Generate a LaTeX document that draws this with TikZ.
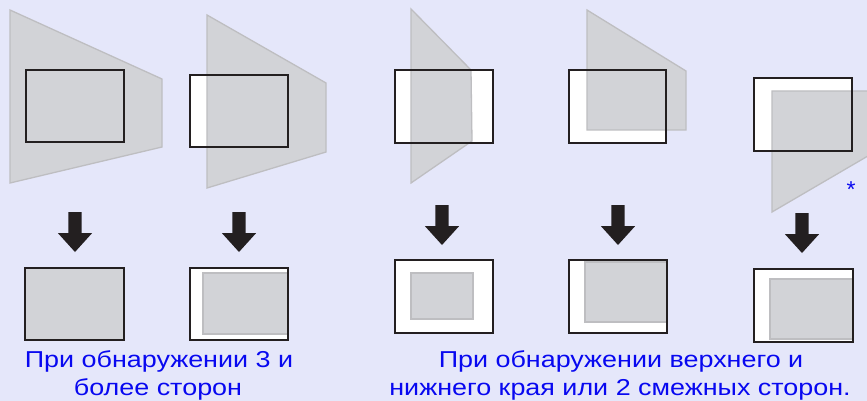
\documentclass[tikz,border=0pt]{standalone}
\usepackage{fontspec}
\setmainfont{Liberation Sans}
\newfontfamily\capfont[FakeStretch=1.17]{Liberation Sans}
\definecolor{bgc}{RGB}{229,231,250}
\definecolor{shadefill}{RGB}{210,211,215}
\definecolor{shadeedge}{RGB}{190,190,193}
\definecolor{frameblk}{RGB}{35,31,32}
\definecolor{captionblue}{RGB}{8,8,240}
\begin{document}
\begin{tikzpicture}[x=1pt,y=-1pt,
  shadeshape/.style={fill=shadefill,draw=shadeedge,line width=1.3pt,line join=miter},
  screenframe/.style={draw=frameblk,line width=2pt},
  screenwhite/.style={fill=white},
  innerimg/.style={fill=shadefill,draw=shadeedge,line width=1.3pt},
  caption/.style={text=captionblue,font=\capfont\fontsize{23}{28}\selectfont,anchor=base,inner sep=0pt},
  blockarrow/.style={fill=frameblk,draw=none},
  pics/downarrow/.style={code={
    \fill[blockarrow] (-6.7,0) -- (6.7,0) -- (6.7,21) -- (17.2,21) -- (0,40) -- (-17.2,21) -- (-6.7,21) -- cycle;
  }}]
\useasboundingbox (0,0) rectangle (867,401);
\fill[bgc] (0,0) rectangle (867,401);
\begin{scope}
\clip (0,0) rectangle (867,401);
% ---------- top row ----------
% panel 1
\draw[shadeshape] (10,10) -- (162,79) -- (162,147) -- (10,183) -- cycle;
\draw[screenframe] (26,70) rectangle (124,142);
% panel 2
\fill[screenwhite] (190,75) rectangle (288,147);
\draw[shadeshape] (207,15) -- (326,83) -- (326,152) -- (207,188) -- cycle;
\draw[screenframe] (190,75) rectangle (288,147);
% panel 3
\fill[screenwhite] (395,70) rectangle (493,143);
\draw[shadeshape] (411,9) -- (471,70) -- (472,141) -- (411,183) -- cycle;
\draw[screenframe] (395,70) rectangle (493,143);
% panel 4
\fill[screenwhite] (569,70) rectangle (666,143);
\draw[shadeshape] (587,10) -- (686,71) -- (686,130) -- (587,130) -- cycle;
\draw[screenframe] (569,70) rectangle (666,143);
% panel 5
\fill[screenwhite] (754,78) rectangle (852,151);
\draw[shadeshape] (772,91) -- (885,91) -- (885,146) -- (772,212) -- cycle;
\draw[screenframe] (754,78) rectangle (852,151);
\end{scope}
\node[text=captionblue,font=\fontsize{23}{23}\selectfont,inner sep=0pt,anchor=base] (star) at (851,197) {*};
% ---------- arrows ----------
\pic at (75,212) {downarrow};
\pic at (239,212) {downarrow};
\pic at (442,205) {downarrow};
\pic at (618,205) {downarrow};
\pic at (802,213) {downarrow};
% ---------- bottom row ----------
\fill[shadefill] (25,268) rectangle (124,340);
\draw[screenframe] (25,268) rectangle (124,340);
\fill[screenwhite] (190,268) rectangle (288,340);
\draw[innerimg] (288,273) -- (203,273) -- (203,334) -- (288,334);
\draw[screenframe] (190,268) rectangle (288,340);
\fill[screenwhite] (395,260) rectangle (493,333);
\draw[innerimg] (411,273) rectangle (473,319);
\draw[screenframe] (395,260) rectangle (493,333);
\fill[screenwhite] (569,260) rectangle (667,333);
\draw[innerimg] (667,262) -- (585,262) -- (585,322) -- (667,322);
\draw[screenframe] (569,260) rectangle (667,333);
\fill[screenwhite] (754,269) rectangle (853,342);
\draw[innerimg] (853,279) -- (770,279) -- (770,339) -- (853,339);
\draw[screenframe] (754,269) rectangle (853,342);
% ---------- captions ----------
\node[caption] (c1a) at (159,367) {При обнаружении 3 и};
\node[caption] (c1b) at (158,395) {более сторон};
\node[caption] (c2a) at (621,367) {При обнаружении верхнего и};
\node[caption] (c2b) at (620,395) {нижнего края или 2 смежных сторон.};
\end{tikzpicture}
\end{document}
